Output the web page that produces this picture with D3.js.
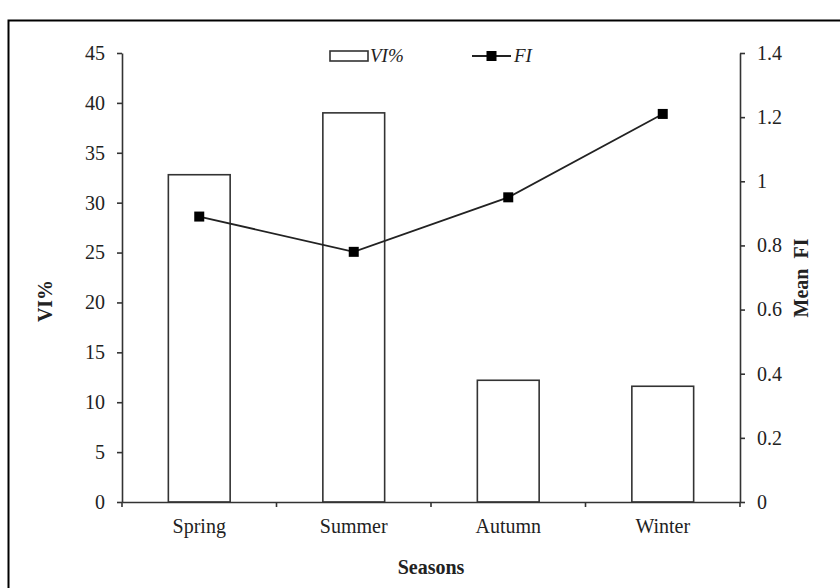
<!DOCTYPE html>
<html>
<head>
<meta charset="utf-8">
<script src="https://cdn.jsdelivr.net/npm/d3@7"></script>
<style>
  body { margin: 0; background: #fff; }
  svg text { font-family: "Liberation Serif", "Times New Roman", serif; fill: #222; }
</style>
</head>
<body>
<div id="chart"></div>
<script>
// chart data
const seasons = ["Spring", "Summer", "Autumn", "Winter"];
const viValues = [32.8, 39.0, 12.2, 11.6];
const fiValues = [0.89, 0.78, 0.95, 1.21];
const leftTicks = [0, 5, 10, 15, 20, 25, 30, 35, 40, 45];
const rightTicks = [0, 0.2, 0.4, 0.6, 0.8, 1, 1.2, 1.4];

const svgWidth = 840,
  svgHeight = 588;
const plot = { left: 122, right: 740, top: 53, bottom: 502 };
const axisColor = "#333";
const fontSize = 20;

const svg = d3
  .select("#chart")
  .append("svg")
  .attr("width", svgWidth)
  .attr("height", svgHeight);

// outer frame (runs past the bottom/right edge like the source image)
svg
  .append("rect")
  .attr("x", 8.5)
  .attr("y", 20.5)
  .attr("width", 1000)
  .attr("height", 800)
  .attr("fill", "none")
  .attr("stroke", "#000")
  .attr("stroke-width", 2);

const x = d3.scaleBand().domain(seasons).range([plot.left, plot.right]).padding(0);
const yLeft = d3.scaleLinear().domain([0, 45]).range([plot.bottom, plot.top]);
const yRight = d3.scaleLinear().domain([0, 1.4]).range([plot.bottom, plot.top]);

const barWidth = x.bandwidth() * 0.4;

// bars
svg
  .selectAll("rect.bar")
  .data(seasons)
  .enter()
  .append("rect")
  .attr("class", "bar")
  .attr("x", (d) => x(d) + (x.bandwidth() - barWidth) / 2)
  .attr("y", (d, i) => yLeft(viValues[i]))
  .attr("width", barWidth)
  .attr("height", (d, i) => plot.bottom - yLeft(viValues[i]))
  .attr("fill", "#fff")
  .attr("stroke", axisColor)
  .attr("stroke-width", 1.6);

// left axis
const leftAxis = svg
  .append("g")
  .attr("transform", `translate(${plot.left},0)`)
  .call(
    d3.axisLeft(yLeft).tickValues(leftTicks).tickSize(5).tickSizeOuter(0).tickPadding(12)
  );

// right axis
const rightAxis = svg
  .append("g")
  .attr("transform", `translate(${plot.right},0)`)
  .call(
    d3
      .axisRight(yRight)
      .tickValues(rightTicks)
      .tickSize(5)
      .tickSizeOuter(0)
      .tickPadding(12)
      .tickFormat(d3.format("~g"))
  );

// bottom axis: labels at band centres, ticks at band edges
const bottomAxis = svg
  .append("g")
  .attr("transform", `translate(0,${plot.bottom})`)
  .call(d3.axisBottom(x).tickSize(0).tickSizeOuter(0).tickPadding(17));

const edges = seasons.map((d) => x(d)).concat([plot.right]);
bottomAxis
  .selectAll("line.edge")
  .data(edges)
  .enter()
  .append("line")
  .attr("class", "edge")
  .attr("x1", (d) => d)
  .attr("x2", (d) => d)
  .attr("y1", 0)
  .attr("y2", 5)
  .attr("stroke", axisColor)
  .attr("stroke-width", 1.6);

[leftAxis, rightAxis, bottomAxis].forEach((g) => {
  g.attr("font-size", fontSize).attr("font-family", "Liberation Serif");
  g.selectAll("path.domain").attr("stroke", axisColor).attr("stroke-width", 1.6);
  g.selectAll(".tick line").attr("stroke", axisColor).attr("stroke-width", 1.6);
  g.selectAll(".tick text").attr("font-size", fontSize).attr("fill", "#222");
});

// FI line + markers
const fiLine = d3
  .line()
  .x((d, i) => x(seasons[i]) + x.bandwidth() / 2)
  .y((d) => yRight(d));

svg
  .append("path")
  .datum(fiValues)
  .attr("d", fiLine)
  .attr("fill", "none")
  .attr("stroke", "#222")
  .attr("stroke-width", 1.8);

const markerSize = 10;
svg
  .selectAll("rect.marker")
  .data(fiValues)
  .enter()
  .append("rect")
  .attr("class", "marker")
  .attr("x", (d, i) => x(seasons[i]) + x.bandwidth() / 2 - markerSize / 2)
  .attr("y", (d) => yRight(d) - markerSize / 2)
  .attr("width", markerSize)
  .attr("height", markerSize)
  .attr("fill", "#000");

// axis titles
svg
  .append("text")
  .attr("transform", "translate(52,301) rotate(-90)")
  .attr("text-anchor", "middle")
  .attr("font-size", fontSize)
  .attr("font-weight", "bold")
  .text("VI%");

svg
  .append("text")
  .attr("transform", "translate(808,278) rotate(-90)")
  .attr("text-anchor", "middle")
  .attr("font-size", fontSize)
  .attr("font-weight", "bold")
  .attr("xml:space", "preserve")
  .text("Mean  FI");

svg
  .append("text")
  .attr("x", (plot.left + plot.right) / 2)
  .attr("y", 574)
  .attr("text-anchor", "middle")
  .attr("font-size", fontSize)
  .attr("font-weight", "bold")
  .text("Seasons");

// legend
const legend = svg.append("g");
legend
  .append("rect")
  .attr("x", 330)
  .attr("y", 51)
  .attr("width", 38)
  .attr("height", 10)
  .attr("fill", "#fff")
  .attr("stroke", axisColor)
  .attr("stroke-width", 1.6);
legend
  .append("text")
  .attr("x", 370)
  .attr("y", 62)
  .attr("font-size", 19)
  .attr("font-style", "italic")
  .text("VI%");
legend
  .append("line")
  .attr("x1", 472)
  .attr("x2", 511)
  .attr("y1", 56)
  .attr("y2", 56)
  .attr("stroke", "#222")
  .attr("stroke-width", 1.8);
legend
  .append("rect")
  .attr("x", 491.5 - markerSize / 2)
  .attr("y", 56 - markerSize / 2)
  .attr("width", markerSize)
  .attr("height", markerSize)
  .attr("fill", "#000");
legend
  .append("text")
  .attr("x", 514)
  .attr("y", 62)
  .attr("font-size", 19)
  .attr("font-style", "italic")
  .text("FI");
</script>
</body>
</html>
